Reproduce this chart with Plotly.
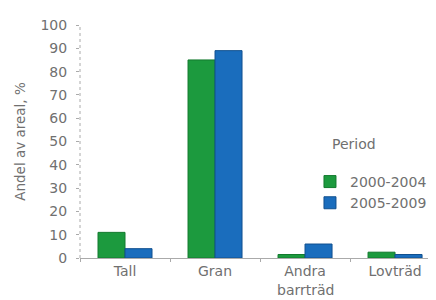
import plotly.graph_objects as go

categories = ["Tall", "Gran", "Andra barrträd", "Lovträd"]
tick_labels = ["Tall", "Gran", "Andra", "Lovträd"]
period_1 = "2000-2004"
period_2 = "2005-2009"
values_2000_2004 = [11, 85, 1.5, 2.5]
values_2005_2009 = [4, 89, 6, 1.5]
y_ticks = [0, 10, 20, 30, 40, 50, 60, 70, 80, 90, 100]

FONT = "DejaVu Sans"
GRAY = "#707070"

fig = go.Figure()
fig.add_trace(go.Bar(
    x=categories, y=values_2000_2004, name=period_1,
    marker=dict(color="#1c9a3e", line=dict(color="#137a2e", width=1)),
))
fig.add_trace(go.Bar(
    x=categories, y=values_2005_2009, name=period_2,
    marker=dict(color="#1a6dbd", line=dict(color="#11508f", width=1)),
))

fig.update_layout(
    width=428, height=292,
    margin=dict(l=72, r=0, t=17, b=42),
    paper_bgcolor="white", plot_bgcolor="white",
    font=dict(family=FONT, size=14, color=GRAY),
    barmode="group", bargap=0.4, bargroupgap=0,
    showlegend=True,
    legend=dict(
        x=0.646, y=0.395, xanchor="left", yanchor="top",
        bgcolor="rgba(0,0,0,0)", font=dict(size=14, color=GRAY),
        tracegroupgap=0,
    ),
    xaxis=dict(
        type="category", range=[-0.5, 3.455],
        tickmode="array", tickvals=categories, ticktext=tick_labels,
        tickson="boundaries", ticks="outside", ticklen=3, tickcolor="#aaaaaa",
        showline=True, linecolor="#aaaaaa", linewidth=1,
        showgrid=False, zeroline=False,
        tickfont=dict(size=14, color=GRAY),
    ),
    yaxis=dict(
        range=[0, 100], tickvals=y_ticks,
        ticks="outside", ticklen=3, tickcolor="#aaaaaa",
        showline=False, showgrid=False, zeroline=False,
        tickfont=dict(size=14, color=GRAY),
        ticklabelstandoff=6,
        title=dict(text="Andel av areal, %", font=dict(size=13.5, color=GRAY), standoff=11),
    ),
)

fig.add_shape(type="line", xref="paper", yref="y", x0=0, x1=0, y0=0, y1=100,
              line=dict(color="#aaaaaa", width=1, dash="dot"))

fig.add_annotation(text="Period", xref="paper", yref="paper", x=0.702, y=0.489,
                   xanchor="left", yanchor="middle", showarrow=False,
                   font=dict(size=14, color=GRAY))
fig.add_annotation(text="barrträd", xref="x", yref="paper", x="Andra barrträd", y=0,
                   yshift=-22, xanchor="center", yanchor="top", showarrow=False,
                   font=dict(size=14, color=GRAY))

fig.write_html("out.html")
